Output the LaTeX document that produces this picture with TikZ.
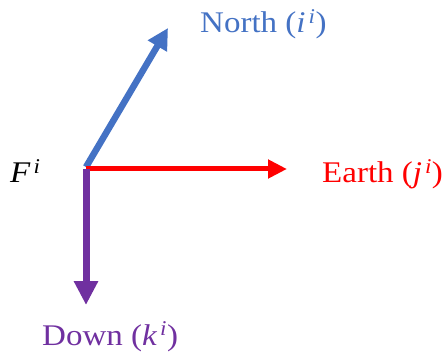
\documentclass[tikz,border=0pt]{standalone}
\usepackage{fontspec}
\setmainfont[FakeStretch=1.1]{Liberation Serif}
\usetikzlibrary{arrows.meta}
\definecolor{nblue}{HTML}{4472C4}
\definecolor{ered}{HTML}{FF0000}
\definecolor{dpurple}{HTML}{7030A0}
\newcommand{\supit}[1]{\kern3pt\textsuperscript{\textit{#1}}}
\tikzset{
  lbl/.style={font=\fontsize{30}{34}\selectfont, inner sep=0pt},
  vec/.style={line cap=butt}
}
\begin{document}
\begin{tikzpicture}[x=1pt,y=1pt]
\useasboundingbox (0,0) rectangle (443,356);
\coordinate (O) at (86,187);
\coordinate (On) at (86,189);
\coordinate (N) at (168,328);
\coordinate (E) at (287,187);
\coordinate (D) at (86,51);
\draw[vec, nblue, line width=6.5pt, -{Triangle[length=21pt,width=21pt]}] (On) -- (N);
\draw[vec, ered, line width=5pt, -{Triangle[length=19pt,width=18pt]}] (O) -- (E);
\draw[vec, dpurple, line width=7pt, -{Triangle[length=24pt,width=23pt]}] (O) -- (D);
\node[lbl, nblue, anchor=base west] (nl) at (200,323) {North (\textit{i}\supit{i})};
\node[lbl, ered, anchor=base west] (el) at (322,173) {Earth (\textit{j}\supit{i})};
\node[lbl, dpurple, anchor=base west] (dl) at (42,11) {Down (\textit{k}\supit{i})};
\node[lbl, anchor=base west] (fl) at (10,173) {\textit{F}\supit{i}};
\end{tikzpicture}
\end{document}
